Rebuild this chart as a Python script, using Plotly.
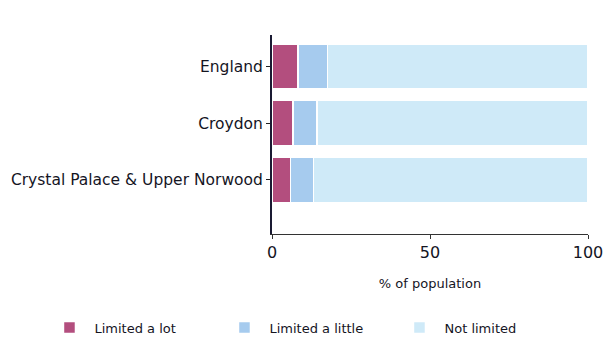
# Limiting long-term illness, stacked horizontal bars (% of population)

import plotly.graph_objects as go

AREAS = ["Crystal Palace & Upper Norwood", "Croydon", "England"]
LIMITED_A_LOT = [5.8, 6.6, 8.3]
LIMITED_A_LITTLE = [7.3, 7.6, 9.3]
NOT_LIMITED = [86.9, 85.8, 82.4]

SERIES = [
    ("Limited a lot", LIMITED_A_LOT, "#b34e7e"),
    ("Limited a little", LIMITED_A_LITTLE, "#a6cbee"),
    ("Not limited", NOT_LIMITED, "#cfeaf8"),
]

FONT = "DejaVu Sans"
TEXT_COLOR = "#15151f"

fig = go.Figure()
for name, values, color in SERIES:
    fig.add_trace(go.Bar(
        y=AREAS,
        x=values,
        name=name,
        orientation="h",
        marker=dict(color=color, line=dict(color="white", width=1.5)),
        width=0.79,
    ))

fig.update_layout(
    barmode="stack",
    width=605,
    height=340,
    paper_bgcolor="white",
    plot_bgcolor="white",
    margin=dict(l=272, r=17, t=35, b=106, autoexpand=False),
    font=dict(family=FONT, size=13, color=TEXT_COLOR),
    showlegend=True,
    legend=dict(
        orientation="h",
        x=-0.72, xanchor="left",
        y=-0.47, yanchor="middle",
        font=dict(size=13, color=TEXT_COLOR),
        traceorder="normal",
        itemwidth=40,
        entrywidth=120,
    ),
    xaxis=dict(
        range=[0, 100],
        tickvals=[0, 50, 100],
        ticks="outside",
        ticklen=4,
        tickcolor="#333",
        showline=True,
        linecolor="#333",
        linewidth=1,
        showgrid=False,
        zeroline=False,
        automargin=False,
        tickfont=dict(size=16),
        title=dict(text="% of population", font=dict(size=13), standoff=17),
    ),
    yaxis=dict(
        range=[-0.95, 2.55],
        ticks="outside",
        ticklen=4,
        tickcolor="#222",
        showline=True,
        linecolor="#1a1a33",
        linewidth=2,
        showgrid=False,
        automargin=False,
        tickfont=dict(size=15.5),
    ),
)

# drop the page's default body margin so the figure sits at the window corner
fig.write_html(
    "out.html",
    config={"displayModeBar": False},
    post_script="document.body.style.margin = '0';",
)
